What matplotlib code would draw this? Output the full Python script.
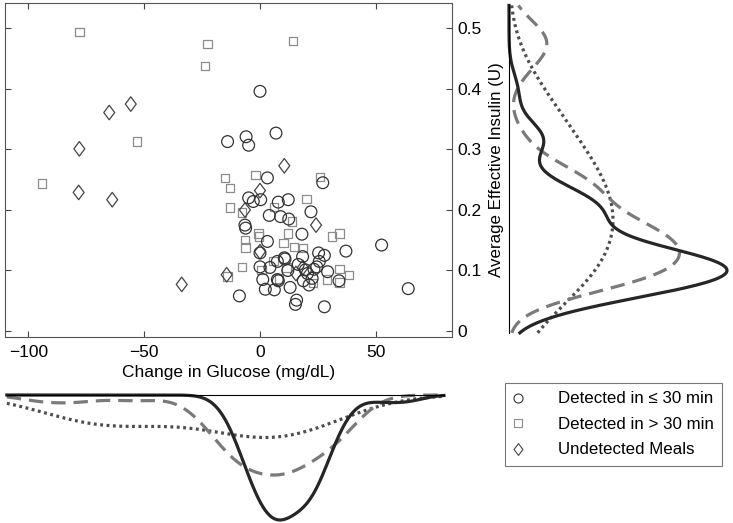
import numpy as np
import matplotlib
matplotlib.use("Agg")
import matplotlib.pyplot as plt
from matplotlib.path import Path
from matplotlib.lines import Line2D

plt.rcParams['font.family'] = ['Liberation Sans', 'DejaVu Sans']

# ---- data: Detected in <= 30 min (circles)
circ_x = [0, -14.0, -6.0, -4.9, 6.9, 3.2, 27.1, -4.9, -2.9, 0.3, 7.9, 12.2, 4.0, 8.9, 12.4,
          22.0, -6.5, -6.2, 18.1, 3.2, 0, 37.1, 52.5, 10.5, 10.8, 7.5, 18.4, 25.3, 27.8,
          25.6, 24.5, 0, 4.3, 19.6, 23.3, 29.2, 1.2, 7.5, 7.9, 13.0, 18.7, 21.2, 22.5, 34.1,
          2.3, 6.2, -8.9, 64.0, 15.8, 15.3, 27.8, 20.5, 16.5, 12.0]
circ_y = [0.396, 0.313, 0.321, 0.307, 0.327, 0.253, 0.245, 0.220, 0.214, 0.217, 0.213, 0.217,
          0.191, 0.189, 0.185, 0.197, 0.175, 0.170, 0.160, 0.148, 0.129, 0.132, 0.142, 0.121,
          0.119, 0.115, 0.123, 0.129, 0.125, 0.115, 0.106, 0.106, 0.105, 0.101, 0.102, 0.098,
          0.085, 0.085, 0.083, 0.072, 0.083, 0.076, 0.087, 0.083, 0.069, 0.068, 0.058, 0.070,
          0.051, 0.044, 0.040, 0.095, 0.110, 0.100]

# ---- data: Detected in > 30 min (squares)
sq_x = [-15.1, -13.0, -1.9, 25.9, 20.1, -13.0, -7.9, 6.0, 13.7, 12.2, -0.7, -0.4, -6.5, -6.2,
        10.1, 14.8, 18.7, 31.2, 34.3, -7.9, 5.8, 11.5, 34.3, 38.4, 28.8, 34.3, 23.0, -14.0,
        0.7, 8.3, -78.0, -22.7, -23.7, -53.0, -94.0, 14.2]
sq_y = [0.253, 0.236, 0.258, 0.255, 0.218, 0.204, 0.196, 0.205, 0.181, 0.161, 0.161, 0.156,
        0.150, 0.138, 0.145, 0.139, 0.137, 0.156, 0.161, 0.106, 0.116, 0.105, 0.102, 0.093,
        0.085, 0.080, 0.079, 0.090, 0.101, 0.087, 0.494, 0.474, 0.438, 0.313, 0.244, 0.479]

# ---- data: Undetected Meals (diamonds)
dia_x = [-55.8, -65.1, -78.0, -78.3, -63.8, -33.8, -14.4, -6.5, 10.5, 0.0, 24.2, 0.0, 15.5, 18.5]
dia_y = [0.375, 0.361, 0.301, 0.229, 0.217, 0.077, 0.093, 0.200, 0.273, 0.232, 0.175, 0.131,
         0.095, 0.105]

x_ticks = [-100, -50, 0, 50]
y_ticks = [0, 0.1, 0.2, 0.3, 0.4, 0.5]
y_tick_labels = ['0', '0.1', '0.2', '0.3', '0.4', '0.5']
legend_labels = ['Detected in \u2264 30 min', 'Detected in > 30 min', 'Undetected Meals']

XLIM = (-110.1, 82.9)
YLIM = (-0.0099, 0.542)
FS = 12.5


def kde(data, grid, mult=1.0):
    d = np.asarray(data, float)
    n = len(d)
    sig = np.median(np.abs(d - np.median(d))) / 0.6745
    bw = sig * (4.0 / (3.0 * n)) ** 0.2 * mult
    z = (grid[:, None] - d[None, :]) / bw
    return np.exp(-0.5 * z ** 2).sum(1) / (n * bw * np.sqrt(2 * np.pi))


W, H = 733, 523
fig = plt.figure(figsize=(W / 100, H / 100), dpi=100)

def fx(px):
    return px / W

def fy(py):
    return 1 - py / H

# main axes
ax = fig.add_axes([fx(5), fy(337), fx(452) - fx(5), fy(3) - fy(337)])
diamond = Path([(0, 1), (0.75, 0), (0, -1), (-0.75, 0), (0, 1)],
               [Path.MOVETO, Path.LINETO, Path.LINETO, Path.LINETO, Path.CLOSEPOLY])
ax.scatter(sq_x, sq_y, s=36, marker='s', facecolors='none', edgecolors='#8c8c8c', linewidths=0.9, zorder=2)
ax.scatter(dia_x, dia_y, s=110, marker=diamond, facecolors='none', edgecolors='#444444', linewidths=0.9, zorder=3)
ax.scatter(circ_x, circ_y, s=72, marker='o', facecolors='none', edgecolors='#333333', linewidths=0.9, zorder=4)
ax.set_xlim(*XLIM)
ax.set_ylim(*YLIM)
ax.set_xticks(x_ticks)
ax.set_yticks(y_ticks)
ax.set_yticklabels(y_tick_labels)
ax.tick_params(direction='in', length=4, width=0.8, color='#444444', labelsize=FS,
               top=True, right=True, left=True, bottom=True, labelleft=False, labelright=True)
ax.tick_params(axis='x', pad=6)
ax.tick_params(axis='y', pad=4)
for sp in ax.spines.values():
    sp.set_color('#555555')
    sp.set_linewidth(0.8)
ax.set_xlabel('Change in Glucose (mg/dL)', fontsize=FS, labelpad=3)
ax.yaxis.set_label_position('right')
ax.set_ylabel('Average Effective Insulin (U)', fontsize=12.2, labelpad=5)

line_kw = dict(solid=dict(color='#262626', lw=2.3, ls='-'),
               dashed=dict(color='#7a7a7a', lw=2.3, ls=(0, (4.5, 2.5))),
               dotted=dict(color='#4d4d4d', lw=2.3, ls=(0, (0.9, 1.1))))

# right density (y)
yg = np.linspace(-0.003, 0.538, 400)
dy_c = kde(circ_y, yg, 1.0)
dy_s = kde(sq_y, yg, 0.78)
dy_d = kde(dia_y, yg, 1.0)
Q = dy_c.max()
axr = fig.add_axes([fx(507), fy(337), fx(732) - fx(507), fy(3) - fy(337)])
axr.plot(dy_d, yg, **line_kw['dotted'])
axr.plot(dy_s, yg, **line_kw['dashed'])
axr.plot(dy_c, yg, **line_kw['solid'])
axr.plot([0, 0], [-0.003, 0.538], color='black', lw=0.8)
axr.set_xlim(-2 / 218 * Q, Q * 223 / 218)
axr.set_ylim(*YLIM)
axr.axis('off')

# bottom density (x)
xg = np.linspace(-109.3, 79.4, 400)
dx_c = kde(circ_x, xg, 1.0)
dx_s = kde(sq_x, xg, 1.0)
dx_d = kde(dia_x, xg, 1.0)
P = dx_c.max()
axb = fig.add_axes([fx(5), fy(522), fx(452) - fx(5), fy(393) - fy(522)])
axb.plot(xg, dx_d, **line_kw['dotted'])
axb.plot(xg, dx_s, **line_kw['dashed'])
axb.plot(xg, dx_c, **line_kw['solid'])
axb.plot([-109.3, 79.4], [0, 0], color='black', lw=0.8)
axb.set_xlim(*XLIM)
axb.set_ylim(P * 127 / 125, -2 / 125 * P)
axb.axis('off')

# legend
handles = [Line2D([], [], ls='none', marker='o', ms=6.5, mfc='none', mec='#333333', mew=0.8),
           Line2D([], [], ls='none', marker='s', ms=5.5, mfc='none', mec='#8c8c8c', mew=0.8),
           Line2D([], [], ls='none', marker=diamond, ms=8.5, mfc='none', mec='#444444', mew=0.8)]
leg = fig.legend(handles, legend_labels, loc='upper left', bbox_to_anchor=(fx(505), fy(383)),
                 fontsize=12.2, frameon=True, fancybox=False, edgecolor='#555555',
                 borderpad=0.5, labelspacing=0.62, handletextpad=2.1, handlelength=0.5,
                 borderaxespad=0)
leg.get_frame().set_linewidth(0.8)

fig.savefig('out.png', dpi=100)
